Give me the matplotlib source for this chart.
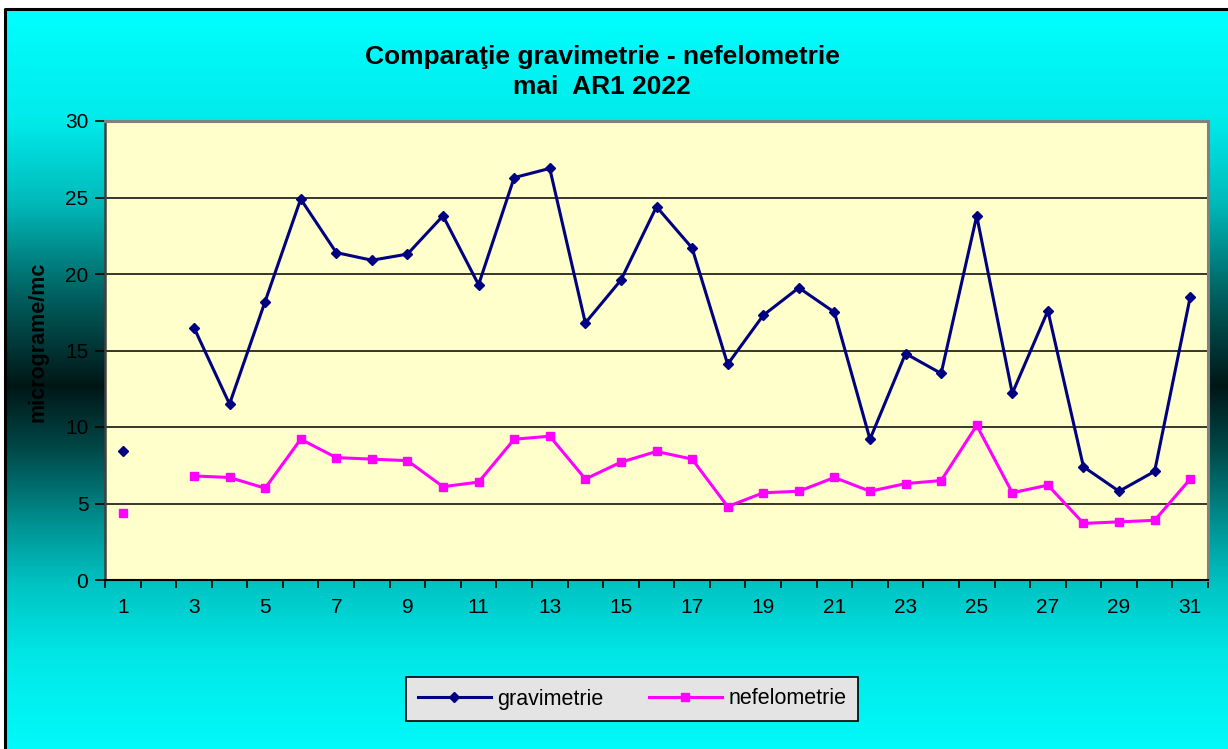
import numpy as np
import matplotlib
matplotlib.use("Agg")
import matplotlib.pyplot as plt
from matplotlib.colors import LinearSegmentedColormap

plt.rcParams['font.family'] = ['Liberation Sans', 'DejaVu Sans']

# data (days of May, daily values in micrograme/mc)
days = list(range(1, 32))
gravimetrie = [8.4, np.nan, 16.5, 11.5, 18.2, 24.9, 21.4, 20.9, 21.3, 23.8,
               19.3, 26.3, 26.9, 16.8, 19.6, 24.4, 21.7, 14.1, 17.3, 19.1,
               17.5, 9.2, 14.8, 13.5, 23.8, 12.2, 17.6, 7.4, 5.8, 7.1, 18.5]
nefelometrie = [4.4, np.nan, 6.8, 6.7, 6.0, 9.2, 8.0, 7.9, 7.8, 6.1,
                6.4, 9.2, 9.4, 6.6, 7.7, 8.4, 7.9, 4.8, 5.7, 5.8,
                6.7, 5.8, 6.3, 6.5, 10.1, 5.7, 6.2, 3.7, 3.8, 3.9, 6.6]
xlabels = [str(d) if d % 2 == 1 else '' for d in days]
yticks = [0, 5, 10, 15, 20, 25, 30]

W, H = 1228, 749
fig = plt.figure(figsize=(W / 100, H / 100), dpi=100)
fig.patch.set_facecolor('white')

# background gradient: cyan at the edges, almost black in the middle
bg = fig.add_axes([5 / W, 0, 1 - 5 / W, 1 - 9 / H])
bg.set_axis_off()
stops = [(0.0, '#00ffff'), (0.15, '#00eaea'), (0.26, '#00baba'),
         (0.38, '#006464'), (0.51, '#001616'), (0.60, '#004c4c'),
         (0.70, '#009494'), (0.78, '#00c4c4'), (0.88, '#00e8e8'),
         (1.0, '#00fafa')]
cmap = LinearSegmentedColormap.from_list('bg', stops)
grad = np.linspace(0, 1, 512).reshape(-1, 1)
bg.imshow(grad, aspect='auto', cmap=cmap, extent=[0, 1, 0, 1], origin='upper')
bg.set_xlim(0, 1)
bg.set_ylim(0, 1)
bg.plot([0, 0, 1], [0, 1, 1], color='black', lw=2.2, clip_on=False)

ax = fig.add_axes([105 / W, 1 - 580 / H, (1208 - 105) / W, (580 - 121) / H])
ax.set_facecolor('#ffffcc')

ax.plot(days, gravimetrie, color='#000080', lw=2.2, marker='D', ms=5,
        label='gravimetrie', zorder=3)
ax.plot(days, nefelometrie, color='#ff00ff', lw=2.2, marker='s', ms=6,
        label='nefelometrie', zorder=3)

ax.set_xlim(0.5, 31.5)
ax.set_ylim(0, 30)
ax.set_yticks(yticks)
ax.yaxis.grid(True, color='black', lw=1.1)
ax.set_axisbelow(True)

ax.set_xticks(days)
ax.set_xticklabels(xlabels)
ax.set_xticks(np.arange(0.5, 32, 1), minor=True)
ax.tick_params(axis='x', which='major', length=0, pad=13, labelsize=15)
ax.tick_params(axis='x', which='minor', length=6, width=1.2, direction='out')
ax.tick_params(axis='y', length=7, width=1.2, pad=5, labelsize=15)

for s in ['top', 'right']:
    ax.spines[s].set_color('#808080')
    ax.spines[s].set_linewidth(2.2)
ax.spines['left'].set_color('#404040')
ax.spines['left'].set_linewidth(1.8)
ax.spines['bottom'].set_color('black')
ax.spines['bottom'].set_linewidth(1.5)

ax.set_ylabel('micrograme/mc', fontsize=15.5, fontweight='bold')
ax.yaxis.set_label_coords(-56 / 1103, 0.518)

fig.text(602 / W, 1 - 57 / H, 'Comparaţie gravimetrie - nefelometrie',
         ha='center', va='center', fontsize=19, fontweight='bold')
fig.text(602 / W, 1 - 87 / H, 'mai  AR1 2022', ha='center', va='center',
         fontsize=19, fontweight='bold')

leg = fig.legend(loc='center', bbox_to_anchor=(632 / W, 1 - 699 / H), ncol=2,
                 fontsize=15.5, frameon=True, fancybox=False, borderpad=0.55,
                 handlelength=3.4, handletextpad=0.3, columnspacing=2.1,
                 borderaxespad=0)
leg.get_frame().set_facecolor('#e4e4e4')
leg.get_frame().set_edgecolor('black')
leg.get_frame().set_linewidth(1.2)
leg.get_frame().set_alpha(1)

fig.savefig('out.png', dpi=100, facecolor=fig.get_facecolor())
